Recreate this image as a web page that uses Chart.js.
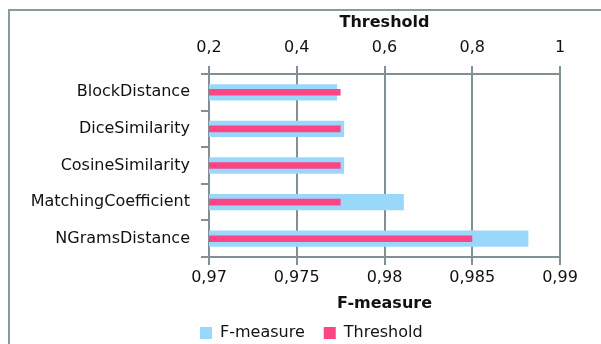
<!DOCTYPE html>
<html>
<head>
<meta charset="utf-8">
<script src="https://cdn.jsdelivr.net/npm/chart.js@4/dist/chart.umd.min.js"></script>
<style>
    body { margin: 0; background: #fff; }
</style>
</head>
<body>
<canvas id="measures" width="601" height="344"></canvas>
<script>
const measureNames = [
    "BlockDistance",
    "DiceSimilarity",
    "CosineSimilarity",
    "MatchingCoefficient",
    "NGramsDistance",
];
const fMeasure = [0.9773, 0.9777, 0.9777, 0.9811, 0.9882];
const threshold = [0.5, 0.5, 0.5, 0.5, 0.8];

const fMeasureTicks = [0.97, 0.975, 0.98, 0.985, 0.99];
const fMeasureTickLabels = ["0,97", "0,975", "0,98", "0,985", "0,99"];
const thresholdTicks = [0.2, 0.4, 0.6, 0.8, 1];
const thresholdTickLabels = ["0,2", "0,4", "0,6", "0,8", "1"];

const lineColor = "#7f9194";
const textColor = "#111";
const textFont = { family: "'DejaVu Sans', sans-serif", size: 16 };
const titleFont = { family: "'DejaVu Sans', sans-serif", size: 16, weight: "bold" };

// outer chart frame, only its left and top edges fall inside the canvas
const chartFrame = {
    id: "chartFrame",
    beforeDraw(chart) {
        const ctx = chart.ctx;
        ctx.save();
        ctx.strokeStyle = "#889a9d";
        ctx.lineWidth = 2;
        ctx.beginPath();
        ctx.moveTo(9, chart.height);
        ctx.lineTo(9, 10);
        ctx.lineTo(chart.width, 10);
        ctx.stroke();
        ctx.restore();
    },
};

// legend row starts under the plot, not at the canvas edge
const legendOffset = {
    id: "legendOffset",
    beforeDraw(chart) {
        chart.legend.left = 181;
    },
};

new Chart(document.getElementById("measures"), {
    type: "bar",
    data: {
        labels: measureNames,
        datasets: [
            {
                label: "Threshold",
                data: threshold,
                xAxisID: "xTop",
                backgroundColor: "#fc4584",
                barPercentage: 0.18,
                categoryPercentage: 1,
                grouped: false,
            },
            {
                label: "F-measure",
                data: fMeasure,
                xAxisID: "x",
                backgroundColor: "#99d8fb",
                barPercentage: 0.445,
                categoryPercentage: 1,
                grouped: false,
            },
        ],
    },
    plugins: [chartFrame, legendOffset],
    options: {
        indexAxis: "y",
        responsive: false,
        animation: false,
        layout: {
            padding: { left: 0, right: 41, top: 0, bottom: -7 },
        },
        plugins: {
            legend: {
                position: "bottom",
                align: "start",
                reverse: true,
                labels: {
                    boxWidth: 12,
                    boxHeight: 12,
                    padding: 19,
                    color: textColor,
                    font: textFont,
                },
            },
            tooltip: { enabled: false },
        },
        scales: {
            x: {
                position: "bottom",
                min: 0.97,
                max: 0.99,
                afterBuildTicks: (s) => {
                    s.ticks = fMeasureTicks.map((v) => ({ value: v }));
                },
                afterFit: (s) => {
                    s.height = 49;
                },
                ticks: {
                    callback: (v, i) => fMeasureTickLabels[i],
                    color: textColor,
                    font: textFont,
                    padding: 3,
                    maxRotation: 0,
                },
                grid: { color: lineColor, lineWidth: 2, tickLength: 8 },
                border: { color: lineColor, width: 2 },
                title: {
                    display: true,
                    text: "F-measure",
                    color: textColor,
                    font: titleFont,
                    padding: { top: 0, bottom: -7 },
                },
            },
            xTop: {
                position: "top",
                min: 0.2,
                max: 1,
                afterBuildTicks: (s) => {
                    s.ticks = thresholdTicks.map((v) => ({ value: v }));
                },
                afterFit: (s) => {
                    s.height = 74;
                },
                ticks: {
                    callback: (v, i) => thresholdTickLabels[i],
                    color: textColor,
                    font: textFont,
                    padding: 9,
                    maxRotation: 0,
                },
                grid: {
                    drawOnChartArea: false,
                    color: lineColor,
                    lineWidth: 2,
                    tickLength: 8,
                },
                border: { color: lineColor, width: 2 },
                title: {
                    display: true,
                    text: "Threshold",
                    color: textColor,
                    font: titleFont,
                    padding: { top: 13, bottom: 0 },
                },
            },
            y: {
                afterFit: (s) => {
                    s.width = 209;
                },
                ticks: { color: textColor, font: textFont, padding: 11 },
                grid: {
                    drawOnChartArea: false,
                    color: lineColor,
                    lineWidth: 2,
                    tickLength: 8,
                },
                border: { color: lineColor, width: 2 },
            },
        },
    },
});
</script>
</body>
</html>
